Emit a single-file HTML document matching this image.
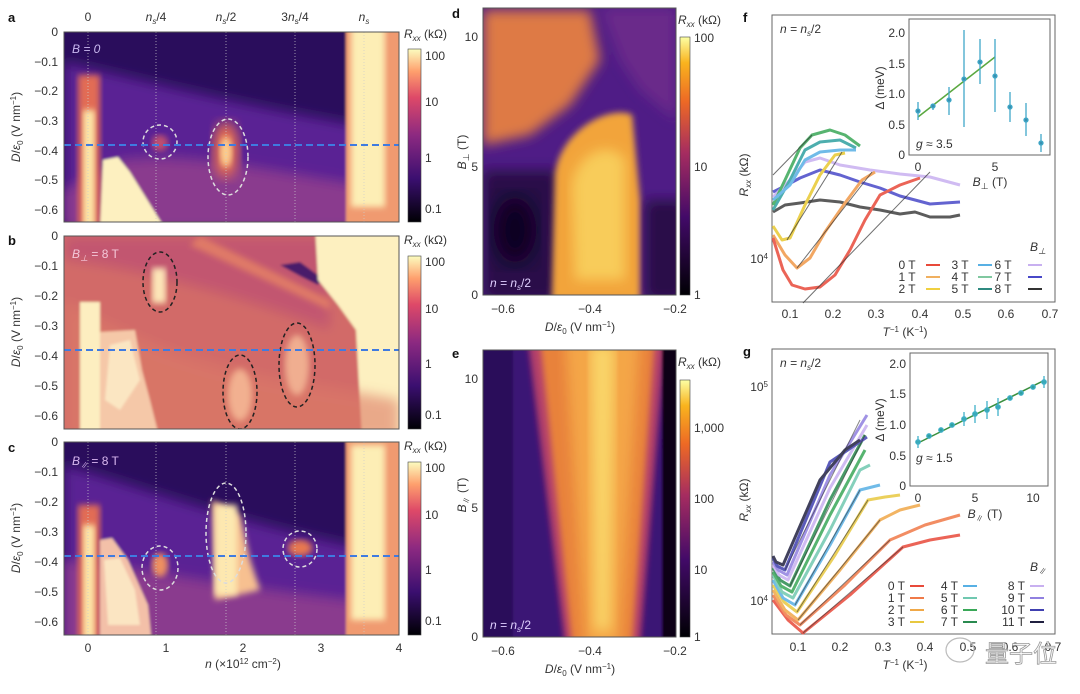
<!DOCTYPE html>
<html><head><meta charset="utf-8"><style>
html,body{margin:0;padding:0;background:#fff;}
svg{display:block;font-family:"Liberation Sans","Noto Sans CJK SC",sans-serif;}
.t{font-size:12px;fill:#333;}
.L{font-size:13px;font-weight:bold;fill:#111;}
</style></head><body>
<svg width="1080" height="694" viewBox="0 0 1080 694" xmlns="http://www.w3.org/2000/svg">
<defs>
<linearGradient id="cm" x1="0" y1="1" x2="0" y2="0">
<stop offset="0" stop-color="#000004"/><stop offset="0.25" stop-color="#3b0f70"/><stop offset="0.5" stop-color="#8c2981"/><stop offset="0.72" stop-color="#de4968"/><stop offset="0.87" stop-color="#fe9f6d"/><stop offset="1" stop-color="#fcfdbf"/></linearGradient>
<linearGradient id="ci" x1="0" y1="1" x2="0" y2="0">
<stop offset="0" stop-color="#000004"/><stop offset="0.3" stop-color="#420a68"/><stop offset="0.55" stop-color="#a52c60"/><stop offset="0.75" stop-color="#ed6925"/><stop offset="0.9" stop-color="#f9b31e"/><stop offset="1" stop-color="#fcffa4"/></linearGradient>
<filter id="b6"><feGaussianBlur stdDeviation="6"/></filter>
<filter id="b3"><feGaussianBlur stdDeviation="3"/></filter>
<filter id="b10"><feGaussianBlur stdDeviation="10"/></filter>
<filter id="b1"><feGaussianBlur stdDeviation="1.2"/></filter>
<clipPath id="ca"><rect x="64" y="32" width="335" height="190"/></clipPath>
<clipPath id="cb"><rect x="64" y="236" width="335" height="193"/></clipPath>
<clipPath id="cc"><rect x="64" y="442" width="335" height="193"/></clipPath>
<clipPath id="cd"><rect x="483" y="8" width="193" height="287"/></clipPath>
<clipPath id="ce"><rect x="483" y="350" width="193" height="287"/></clipPath>
</defs>

<!-- ============ Panel a ============ -->
<g clip-path="url(#ca)"><g filter="url(#b1)">
<rect x="50" y="20" width="360" height="215" fill="#2a0d5c"/>
<path d="M64,62 C150,82 260,110 399,132 L399,222 L64,222Z" fill="#5a2494" filter="url(#b6)"/>
<path d="M120,160 C200,150 280,175 399,190 L399,230 L64,230 L64,190Z" fill="#8a3a8e" filter="url(#b6)"/>
<rect x="78" y="75" width="22" height="160" fill="#e26c55" filter="url(#b3)"/>
<rect x="83" y="110" width="12" height="120" fill="#fde7a8" filter="url(#b3)"/>
<polygon points="103,160 118,157 130,172 166,230 100,230" fill="#fdf0c0"/>
<rect x="346" y="25" width="60" height="205" fill="#f09a70"/>
<rect x="351" y="25" width="34" height="182" fill="#fdeeb5" filter="url(#b3)"/>
<ellipse cx="226" cy="150" rx="13" ry="28" fill="#e8704f" filter="url(#b6)"/>
<ellipse cx="226" cy="152" rx="6" ry="15" fill="#fcd090" filter="url(#b3)"/>
<ellipse cx="160" cy="143" rx="8" ry="8" fill="#c05070" filter="url(#b3)"/>
</g>
<ellipse cx="160" cy="142" rx="17" ry="17" fill="none" stroke="#ddd" stroke-width="1.5" stroke-dasharray="4,3"/>
<ellipse cx="228" cy="157" rx="20" ry="38" fill="none" stroke="#ddd" stroke-width="1.5" stroke-dasharray="4,3"/>
<g stroke="#ccc" stroke-width="1" stroke-dasharray="1,2" opacity="0.7"><line x1="88" y1="32" x2="88" y2="222"/><line x1="156" y1="32" x2="156" y2="222"/><line x1="226" y1="32" x2="226" y2="222"/><line x1="295" y1="32" x2="295" y2="222"/><line x1="364" y1="32" x2="364" y2="222"/></g>
<line x1="64" y1="145" x2="399" y2="145" stroke="#3f7be0" stroke-width="2" stroke-dasharray="7,4"/>
<text x="72" y="53" font-size="12" fill="#c9b8f0" font-style="italic">B = 0</text>
</g>
<rect x="64" y="32" width="335" height="190" fill="none" stroke="#555" stroke-width="1"/>
<g class="t" text-anchor="middle"><text x="88" y="21">0</text><text x="156" y="21" font-style="italic">n<tspan font-size="8" dy="3">s</tspan><tspan dy="-3" font-style="normal">/4</tspan></text><text x="226" y="21" font-style="italic">n<tspan font-size="8" dy="3">s</tspan><tspan dy="-3" font-style="normal">/2</tspan></text><text x="295" y="21">3<tspan font-style="italic">n</tspan><tspan font-size="8" dy="3">s</tspan><tspan dy="-3">/4</tspan></text><text x="364" y="21" font-style="italic">n<tspan font-size="8" dy="3">s</tspan></text></g>

<!-- ============ Panel b ============ -->
<g clip-path="url(#cb)"><g filter="url(#b1)">
<rect x="50" y="225" width="360" height="215" fill="#d26b68"/>
<path d="M64,236 L330,236 L330,330 C250,300 150,270 64,260Z" fill="#c2566f" filter="url(#b6)"/>
<path d="M200,236 L330,300 L330,310 L190,245Z" fill="#e07a66" filter="url(#b3)"/>
<polygon points="280,265 300,262 322,278 318,285 300,276" fill="#4a1a6a"/>
<polygon points="315,225 410,225 410,440 362,440 356,330 338,305 318,280" fill="#fdf0c0"/>
<path d="M64,300 L64,440 L399,440 L399,400 C300,380 200,380 64,300Z" fill="#dd7a66" filter="url(#b6)" opacity="0.6"/>
<rect x="80" y="302" width="20" height="135" fill="#fdeec0"/>
<polygon points="100,332 135,330 142,370 150,400 160,440 100,440" fill="#f5c8a8"/>
<polygon points="110,345 130,340 140,380 120,410 105,400" fill="#fdeec8" opacity="0.8"/>
<rect x="152" y="268" width="14" height="35" fill="#fde6b8" filter="url(#b3)"/>
<ellipse cx="240" cy="395" rx="12" ry="26" fill="#f2b090" filter="url(#b3)"/>
<ellipse cx="297" cy="365" rx="12" ry="30" fill="#f0ae90" filter="url(#b3)"/>
</g>
<ellipse cx="160" cy="282" rx="17" ry="30" fill="none" stroke="#222" stroke-width="1.5" stroke-dasharray="4,3"/>
<ellipse cx="240" cy="392" rx="17" ry="37" fill="none" stroke="#222" stroke-width="1.5" stroke-dasharray="4,3"/>
<ellipse cx="297" cy="365" rx="18" ry="42" fill="none" stroke="#222" stroke-width="1.5" stroke-dasharray="4,3"/>
<line x1="64" y1="350" x2="399" y2="350" stroke="#3f7be0" stroke-width="2" stroke-dasharray="7,4"/>
<text x="72" y="258" font-size="12" fill="#f4c8d8" font-style="italic">B<tspan font-size="8" dy="3">⊥</tspan><tspan dy="-3" font-style="normal"> = 8 T</tspan></text>
</g>
<rect x="64" y="236" width="335" height="193" fill="none" stroke="#555"/>

<!-- ============ Panel c ============ -->
<g clip-path="url(#cc)"><g filter="url(#b1)">
<rect x="50" y="430" width="360" height="215" fill="#2a0d5c"/>
<path d="M64,465 C150,490 260,530 399,555 L399,645 L64,645Z" fill="#5a2494" filter="url(#b6)"/>
<path d="M64,560 C150,570 250,590 399,605 L399,645 L64,645Z" fill="#8a3a8e" filter="url(#b6)"/>
<rect x="78" y="505" width="22" height="140" fill="#e26c55" filter="url(#b3)"/>
<rect x="83" y="525" width="12" height="115" fill="#fde7a8" filter="url(#b3)"/>
<polygon points="100,540 112,538 128,560 148,605 152,645 100,645" fill="#f3c0a8"/>
<polygon points="104,560 120,558 135,590 140,625 108,625" fill="#fdeec8" opacity="0.8"/>
<rect x="346" y="430" width="60" height="215" fill="#f09a70"/>
<rect x="351" y="445" width="34" height="175" fill="#fdeeb5" filter="url(#b3)"/>
<ellipse cx="160" cy="565" rx="8" ry="12" fill="#ef9060" filter="url(#b3)"/>
<path d="M212,500 L240,515 L250,560 L260,590 L215,600Z" fill="#f7c090" filter="url(#b3)"/>
<rect x="215" y="505" width="22" height="90" fill="#fde8b0" filter="url(#b3)"/>
<ellipse cx="300" cy="548" rx="12" ry="8" fill="#e87850" filter="url(#b3)"/>
</g>
<ellipse cx="160" cy="568" rx="18" ry="22" fill="none" stroke="#ddd" stroke-width="1.5" stroke-dasharray="4,3"/>
<ellipse cx="226" cy="533" rx="20" ry="50" fill="none" stroke="#ddd" stroke-width="1.5" stroke-dasharray="4,3"/>
<ellipse cx="300" cy="549" rx="17" ry="18" fill="none" stroke="#ddd" stroke-width="1.5" stroke-dasharray="4,3"/>
<g stroke="#ccc" stroke-width="1" stroke-dasharray="1,2" opacity="0.7"><line x1="88" y1="442" x2="88" y2="635"/><line x1="156" y1="442" x2="156" y2="635"/><line x1="226" y1="442" x2="226" y2="635"/><line x1="295" y1="442" x2="295" y2="635"/><line x1="364" y1="442" x2="364" y2="635"/></g>
<line x1="64" y1="556" x2="399" y2="556" stroke="#3f7be0" stroke-width="2" stroke-dasharray="7,4"/>
<text x="72" y="465" font-size="12" fill="#d9b8f0" font-style="italic">B<tspan font-size="8" dy="3">∥</tspan><tspan dy="-3" font-style="normal"> = 8 T</tspan></text>
</g>
<rect x="64" y="442" width="335" height="193" fill="none" stroke="#555"/>

<!-- y ticks a,b,c -->
<g class="t" text-anchor="end">
<text x="58" y="36">0</text><text x="58" y="66">−0.1</text><text x="58" y="95">−0.2</text><text x="58" y="125">−0.3</text><text x="58" y="155">−0.4</text><text x="58" y="184">−0.5</text><text x="58" y="214">−0.6</text>
<text x="58" y="240">0</text><text x="58" y="270">−0.1</text><text x="58" y="300">−0.2</text><text x="58" y="330">−0.3</text><text x="58" y="360">−0.4</text><text x="58" y="390">−0.5</text><text x="58" y="420">−0.6</text>
<text x="58" y="446">0</text><text x="58" y="476">−0.1</text><text x="58" y="506">−0.2</text><text x="58" y="536">−0.3</text><text x="58" y="566">−0.4</text><text x="58" y="596">−0.5</text><text x="58" y="626">−0.6</text>
</g>
<g class="t" text-anchor="middle">
<text transform="translate(20,127) rotate(-90)"><tspan font-style="italic">D</tspan>/<tspan font-style="italic">ε</tspan><tspan font-size="8" dy="3">0</tspan><tspan dy="-3"> (V nm</tspan><tspan font-size="8" dy="-4">−1</tspan><tspan dy="4">)</tspan></text>
<text transform="translate(20,332) rotate(-90)"><tspan font-style="italic">D</tspan>/<tspan font-style="italic">ε</tspan><tspan font-size="8" dy="3">0</tspan><tspan dy="-3"> (V nm</tspan><tspan font-size="8" dy="-4">−1</tspan><tspan dy="4">)</tspan></text>
<text transform="translate(20,538) rotate(-90)"><tspan font-style="italic">D</tspan>/<tspan font-style="italic">ε</tspan><tspan font-size="8" dy="3">0</tspan><tspan dy="-3"> (V nm</tspan><tspan font-size="8" dy="-4">−1</tspan><tspan dy="4">)</tspan></text>
<text x="88" y="652">0</text><text x="166" y="652">1</text><text x="243" y="652">2</text><text x="321" y="652">3</text><text x="399" y="652">4</text>
<text x="243" y="668"><tspan font-style="italic">n</tspan> (×10<tspan font-size="8" dy="-4">12</tspan><tspan dy="4"> cm</tspan><tspan font-size="8" dy="-4">−2</tspan><tspan dy="4">)</tspan></text>
</g>
<!-- colorbars a b c -->
<g>
<rect x="408" y="49" width="13" height="173" fill="url(#cm)" stroke="#444" stroke-width="0.6"/>
<rect x="408" y="256" width="13" height="173" fill="url(#cm)" stroke="#444" stroke-width="0.6"/>
<rect x="408" y="462" width="13" height="173" fill="url(#cm)" stroke="#444" stroke-width="0.6"/>
</g>
<g class="t">
<text x="404" y="38"><tspan font-style="italic">R</tspan><tspan font-size="8" dy="3" font-style="italic">xx</tspan><tspan dy="-3"> (kΩ)</tspan></text>
<text x="425" y="60">100</text><text x="425" y="106">10</text><text x="425" y="162">1</text><text x="425" y="213">0.1</text>
<text x="404" y="244"><tspan font-style="italic">R</tspan><tspan font-size="8" dy="3" font-style="italic">xx</tspan><tspan dy="-3"> (kΩ)</tspan></text>
<text x="425" y="266">100</text><text x="425" y="313">10</text><text x="425" y="368">1</text><text x="425" y="419">0.1</text>
<text x="404" y="450"><tspan font-style="italic">R</tspan><tspan font-size="8" dy="3" font-style="italic">xx</tspan><tspan dy="-3"> (kΩ)</tspan></text>
<text x="425" y="472">100</text><text x="425" y="519">10</text><text x="425" y="574">1</text><text x="425" y="625">0.1</text>
</g>

<!-- ============ Panel d ============ -->
<g clip-path="url(#cd)"><g filter="url(#b1)">
<rect x="475" y="0" width="210" height="300" fill="#4f1d86"/>
<path d="M483,10 L590,10 L600,60 L570,105 L530,135 L483,145Z" fill="#de7a45" filter="url(#b6)"/>
<path d="M600,8 L676,8 L676,120 L640,90 L620,60Z" fill="#6a2a8a" filter="url(#b6)"/>
<rect x="483" y="170" width="75" height="130" fill="#2a0c4a" filter="url(#b6)"/>
<ellipse cx="515" cy="230" rx="22" ry="35" fill="#0e0420" filter="url(#b10)"/>
<path d="M555,175 C560,130 610,105 632,115 L640,200 L640,300 L552,300Z" fill="#f2a43a" filter="url(#b3)"/>
<path d="M572,185 C578,150 612,140 625,160 L625,280 L575,280Z" fill="#f8cc5a" filter="url(#b6)"/>
<rect x="645" y="200" width="40" height="100" fill="#2a0c4a" filter="url(#b6)"/>
</g>
<text x="490" y="287" font-size="12" fill="#e0d0ff" font-style="italic">n = n<tspan font-size="8" dy="3">s</tspan><tspan dy="-3" font-style="normal">/2</tspan></text>
</g>
<rect x="483" y="8" width="193" height="287" fill="none" stroke="#555"/>
<rect x="680" y="37" width="10" height="258" fill="url(#ci)" stroke="#444" stroke-width="0.6"/>
<g class="t">
<text x="678" y="24"><tspan font-style="italic">R</tspan><tspan font-size="8" dy="3" font-style="italic">xx</tspan><tspan dy="-3"> (kΩ)</tspan></text>
<text x="694" y="42">100</text><text x="694" y="171">10</text><text x="694" y="299">1</text>
</g>
<g class="t" text-anchor="end"><text x="478" y="41">10</text><text x="478" y="171">5</text><text x="478" y="299">0</text>
<text x="478" y="383">10</text><text x="478" y="512">5</text><text x="478" y="641">0</text></g>
<g class="t" text-anchor="middle">
<text x="503" y="313">−0.6</text><text x="590" y="313">−0.4</text><text x="675" y="313">−0.2</text>
<text x="580" y="331"><tspan font-style="italic">D</tspan>/<tspan font-style="italic">ε</tspan><tspan font-size="8" dy="3">0</tspan><tspan dy="-3"> (V nm</tspan><tspan font-size="8" dy="-4">−1</tspan><tspan dy="4">)</tspan></text>
<text transform="translate(466,152) rotate(-90)"><tspan font-style="italic">B</tspan><tspan font-size="8" dy="3">⊥</tspan><tspan dy="-3"> (T)</tspan></text>
<text transform="translate(466,495) rotate(-90)"><tspan font-style="italic">B</tspan><tspan font-size="8" dy="3">∥</tspan><tspan dy="-3"> (T)</tspan></text>
<text x="503" y="655">−0.6</text><text x="590" y="655">−0.4</text><text x="675" y="655">−0.2</text>
<text x="580" y="673"><tspan font-style="italic">D</tspan>/<tspan font-style="italic">ε</tspan><tspan font-size="8" dy="3">0</tspan><tspan dy="-3"> (V nm</tspan><tspan font-size="8" dy="-4">−1</tspan><tspan dy="4">)</tspan></text>
</g>

<!-- ============ Panel e ============ -->
<g clip-path="url(#ce)"><g filter="url(#b1)">
<rect x="475" y="340" width="210" height="310" fill="#3a1275"/>
<rect x="475" y="340" width="38" height="310" fill="#2a0c5a"/>
<polygon points="528,340 665,340 640,645 565,645" fill="#b4406a" filter="url(#b3)"/>
<polygon points="540,340 655,340 632,645 572,645" fill="#e8823a" filter="url(#b3)"/>
<polygon points="565,340 640,340 620,645 585,645" fill="#f4a646" filter="url(#b6)"/>
<polygon points="590,345 615,345 610,630 595,630" fill="#f9d468" filter="url(#b6)"/>
<rect x="662" y="340" width="25" height="310" fill="#0a0314"/>
</g>
<text x="490" y="629" font-size="12" fill="#e0d0ff" font-style="italic">n = n<tspan font-size="8" dy="3">s</tspan><tspan dy="-3" font-style="normal">/2</tspan></text>
</g>
<rect x="483" y="350" width="193" height="287" fill="none" stroke="#555"/>
<rect x="680" y="380" width="10" height="257" fill="url(#ci)" stroke="#444" stroke-width="0.6"/>
<g class="t">
<text x="678" y="366"><tspan font-style="italic">R</tspan><tspan font-size="8" dy="3" font-style="italic">xx</tspan><tspan dy="-3"> (kΩ)</tspan></text>
<text x="694" y="432">1,000</text><text x="694" y="503">100</text><text x="694" y="574">10</text><text x="694" y="641">1</text>
</g>

<!-- ============ Panel f ============ -->
<rect x="772" y="15" width="283" height="287" fill="#fff" stroke="#666"/>
<g fill="none" stroke-width="3" stroke-linejoin="round" opacity="0.85">
<polyline stroke="#000" opacity="0.75" points="773,212 785,205 800,203 820,200 840,202 860,207 880,210 900,214 915,212 930,217 950,217 960,215"/>
<polyline stroke="#4848c8" points="773,192 785,186 800,178 820,170 840,175 860,182 880,188 900,196 930,204 960,202"/>
<polyline stroke="#c8b0f0" points="773,197 790,180 805,162 820,158 840,165 870,170 900,174 930,177 960,185"/>
<polyline stroke="#2fa0a0" points="773,210 790,180 805,150 820,142 840,140 856,148"/>
<polyline stroke="#3aa858" points="773,205 785,180 800,148 812,135 830,130 845,135 860,146"/>
<polyline stroke="#58b0e4" points="773,200 790,185 805,160 820,152 840,150 856,150"/>
<polyline stroke="#e8c830" points="773,226 782,240 790,238 805,205 820,175 835,155 845,153"/>
<polyline stroke="#f09848" points="773,235 785,255 797,268 810,258 825,232 845,203 862,180 875,172"/>
<polyline stroke="#e84a3a" points="773,238 783,270 792,285 805,289 820,287 835,275 850,250 865,220 880,195 900,185 920,178"/>
</g>
<g stroke="#333" stroke-width="1" opacity="0.7">
<line x1="803" y1="303" x2="930" y2="172"/><line x1="797" y1="268" x2="872" y2="172"/><line x1="787" y1="240" x2="842" y2="152"/><line x1="773" y1="175" x2="812" y2="135"/>
</g>
<g class="t" text-anchor="middle"><text x="790" y="318">0.1</text><text x="833" y="318">0.2</text><text x="876" y="318">0.3</text><text x="920" y="318">0.4</text><text x="963" y="318">0.5</text><text x="1006" y="318">0.6</text><text x="1050" y="318">0.7</text>
<text x="905" y="336"><tspan font-style="italic">T</tspan><tspan font-size="8" dy="-4">−1</tspan><tspan dy="4"> (K</tspan><tspan font-size="8" dy="-4">−1</tspan><tspan dy="4">)</tspan></text>
<text transform="translate(748,175) rotate(-90)"><tspan font-style="italic">R</tspan><tspan font-size="8" dy="3" font-style="italic">xx</tspan><tspan dy="-3"> (kΩ)</tspan></text>
</g>
<text class="t" x="768" y="263" text-anchor="end">10<tspan font-size="8" dy="-4">4</tspan></text>
<text class="t" x="780" y="33" font-style="italic">n = n<tspan font-size="8" dy="3">s</tspan><tspan dy="-3" font-style="normal">/2</tspan></text>
<!-- inset f -->
<rect x="909" y="19" width="141" height="136" fill="#fff" stroke="#666"/>
<line x1="918" y1="117" x2="995" y2="57" stroke="#5aa840" stroke-width="1.5"/>
<g stroke="#40a8c8" stroke-width="1.3" fill="#3890b0">
<line x1="918" y1="102" x2="918" y2="120"/><line x1="933" y1="104" x2="933" y2="110"/><line x1="949" y1="87" x2="949" y2="115"/><line x1="964" y1="30" x2="964" y2="127"/><line x1="980" y1="39" x2="980" y2="84"/><line x1="995" y1="39" x2="995" y2="112"/><line x1="1010" y1="92" x2="1010" y2="122"/><line x1="1026" y1="103" x2="1026" y2="136"/><line x1="1041" y1="134" x2="1041" y2="152"/>
<circle cx="918" cy="111" r="2"/><circle cx="933" cy="106" r="2"/><circle cx="949" cy="100" r="2"/><circle cx="964" cy="79" r="2"/><circle cx="980" cy="62" r="2"/><circle cx="995" cy="76" r="2"/><circle cx="1010" cy="107" r="2"/><circle cx="1026" cy="120" r="2"/><circle cx="1041" cy="143" r="2"/>
</g>
<g class="t" text-anchor="end"><text x="905" y="37">2.0</text><text x="905" y="68">1.5</text><text x="905" y="98">1.0</text><text x="905" y="129">0.5</text><text x="905" y="159">0</text></g>
<g class="t" text-anchor="middle"><text x="918" y="171">0</text><text x="995" y="171">5</text><text x="990" y="186"><tspan font-style="italic">B</tspan><tspan font-size="8" dy="3">⊥</tspan><tspan dy="-3"> (T)</tspan></text>
<text transform="translate(884,88) rotate(-90)">Δ (meV)</text></g>
<text class="t" x="916" y="148" font-size="13"><tspan font-style="italic">g</tspan> ≈ 3.5</text>
<!-- legend f -->
<text class="t" x="1030" y="251" font-style="italic" font-size="13">B<tspan font-size="8" dy="3">⊥</tspan></text>
<g class="t" font-size="11" text-anchor="middle">
<text x="907" y="269">0 T</text><text x="907" y="281">1 T</text><text x="907" y="293">2 T</text>
<text x="960" y="269">3 T</text><text x="960" y="281">4 T</text><text x="960" y="293">5 T</text>
<text x="1003" y="269">6 T</text><text x="1003" y="281">7 T</text><text x="1003" y="293">8 T</text>
</g>
<g stroke-width="2"><line x1="926" y1="265" x2="940" y2="265" stroke="#e84a3a"/><line x1="926" y1="277" x2="940" y2="277" stroke="#f0b060"/><line x1="926" y1="289" x2="940" y2="289" stroke="#f0d040"/>
<line x1="978" y1="265" x2="992" y2="265" stroke="#58b0e4"/><line x1="978" y1="277" x2="992" y2="277" stroke="#80c8a0"/><line x1="978" y1="289" x2="992" y2="289" stroke="#2f8a80"/>
<line x1="1028" y1="265" x2="1042" y2="265" stroke="#c8b0f0"/><line x1="1028" y1="277" x2="1042" y2="277" stroke="#4848c8"/><line x1="1028" y1="289" x2="1042" y2="289" stroke="#333"/></g>

<!-- ============ Panel g ============ -->
<rect x="772" y="349" width="283" height="285" fill="#fff" stroke="#666"/>
<g fill="none" stroke-width="3" stroke-linejoin="round" opacity="0.85">
<polyline stroke="#e84a3a" points="773,600 788,620 803,633 850,595 903,547 930,540 960,535"/>
<polyline stroke="#f07a48" points="773,595 786,615 800,625 845,585 890,540 925,525 960,515"/>
<polyline stroke="#f0a848" points="773,590 785,610 798,620 840,570 880,520 900,510 920,505"/>
<polyline stroke="#e8c840" points="773,585 784,602 797,612 835,555 868,500 885,497 900,495"/>
<polyline stroke="#58b0e4" points="773,580 783,598 795,605 830,545 860,490 880,485"/>
<polyline stroke="#70c8b0" points="773,575 782,592 793,598 830,530 860,470 870,465"/>
<polyline stroke="#3aa858" points="773,572 781,586 792,592 830,515 865,450"/>
<polyline stroke="#2a8a50" points="773,568 780,580 790,586 830,500 865,435"/>
<polyline stroke="#c8b0f0" points="773,565 779,575 788,580 830,488 867,425"/>
<polyline stroke="#9080e0" points="773,562 778,570 787,575 830,475 867,415"/>
<polyline stroke="#4040b0" points="773,558 777,566 785,570 830,462 867,437"/>
<polyline stroke="#202040" points="773,556 776,562 783,565 820,480 845,450 860,440"/>
</g>
<g stroke="#333" stroke-width="1" opacity="0.6">
<line x1="803" y1="633" x2="903" y2="547"/><line x1="800" y1="625" x2="890" y2="540"/><line x1="798" y1="620" x2="880" y2="520"/><line x1="797" y1="612" x2="868" y2="500"/><line x1="795" y1="605" x2="860" y2="490"/><line x1="790" y1="586" x2="865" y2="435"/><line x1="785" y1="570" x2="860" y2="420"/>
</g>
<g class="t" text-anchor="middle"><text x="798" y="651">0.1</text><text x="840" y="651">0.2</text><text x="883" y="651">0.3</text><text x="925" y="651">0.4</text><text x="968" y="651">0.5</text><text x="1010" y="651">0.6</text><text x="1053" y="651">0.7</text>
<text x="905" y="669"><tspan font-style="italic">T</tspan><tspan font-size="8" dy="-4">−1</tspan><tspan dy="4"> (K</tspan><tspan font-size="8" dy="-4">−1</tspan><tspan dy="4">)</tspan></text>
<text transform="translate(748,500) rotate(-90)"><tspan font-style="italic">R</tspan><tspan font-size="8" dy="3" font-style="italic">xx</tspan><tspan dy="-3"> (kΩ)</tspan></text>
</g>
<text class="t" x="768" y="391" text-anchor="end">10<tspan font-size="8" dy="-4">5</tspan></text>
<text class="t" x="768" y="605" text-anchor="end">10<tspan font-size="8" dy="-4">4</tspan></text>
<text class="t" x="780" y="367" font-style="italic">n = n<tspan font-size="8" dy="3">s</tspan><tspan dy="-3" font-style="normal">/2</tspan></text>
<!-- inset g -->
<rect x="910" y="353" width="138" height="133" fill="#fff" stroke="#666"/>
<line x1="918" y1="443" x2="1045" y2="380" stroke="#3a9040" stroke-width="1.5"/>
<g stroke="#40b0c8" stroke-width="1.3" fill="#30a0a0">
<circle cx="918" cy="442" r="2.2"/><circle cx="929" cy="436" r="2.2"/><circle cx="941" cy="430" r="2.2"/><circle cx="952" cy="425" r="2.2"/><circle cx="964" cy="419" r="2.2"/><circle cx="975" cy="414" r="2.2"/><circle cx="987" cy="410" r="2.2"/><circle cx="998" cy="407" r="2.2"/><circle cx="1010" cy="398" r="2.2"/><circle cx="1021" cy="393" r="2.2"/><circle cx="1033" cy="387" r="2.2"/><circle cx="1044" cy="382" r="2.2"/>
<line x1="918" y1="436" x2="918" y2="448"/><line x1="964" y1="412" x2="964" y2="426"/><line x1="975" y1="405" x2="975" y2="423"/><line x1="987" y1="401" x2="987" y2="419"/><line x1="998" y1="398" x2="998" y2="416"/><line x1="1044" y1="376" x2="1044" y2="388"/>
</g>
<g class="t" text-anchor="end"><text x="906" y="368">2.0</text><text x="906" y="398">1.5</text><text x="906" y="429">1.0</text><text x="906" y="460">0.5</text><text x="906" y="490">0</text></g>
<g class="t" text-anchor="middle"><text x="918" y="502">0</text><text x="975" y="502">5</text><text x="1033" y="502">10</text><text x="985" y="518"><tspan font-style="italic">B</tspan><tspan font-size="8" dy="3">∥</tspan><tspan dy="-3"> (T)</tspan></text>
<text transform="translate(884,420) rotate(-90)">Δ (meV)</text></g>
<text class="t" x="916" y="462" font-size="13"><tspan font-style="italic">g</tspan> ≈ 1.5</text>
<!-- legend g -->
<text class="t" x="1030" y="571" font-style="italic" font-size="13">B<tspan font-size="8" dy="3">∥</tspan></text>
<g class="t" font-size="11" text-anchor="end">
<text x="905" y="590">0 T</text><text x="905" y="602">1 T</text><text x="905" y="614">2 T</text><text x="905" y="626">3 T</text>
<text x="958" y="590">4 T</text><text x="958" y="602">5 T</text><text x="958" y="614">6 T</text><text x="958" y="626">7 T</text>
<text x="1025" y="590">8 T</text><text x="1025" y="602">9 T</text><text x="1025" y="614">10 T</text><text x="1025" y="626">11 T</text>
</g>
<g stroke-width="2">
<line x1="910" y1="586" x2="924" y2="586" stroke="#e84a3a"/><line x1="910" y1="598" x2="924" y2="598" stroke="#f07a48"/><line x1="910" y1="610" x2="924" y2="610" stroke="#f0a848"/><line x1="910" y1="622" x2="924" y2="622" stroke="#e8c840"/>
<line x1="963" y1="586" x2="977" y2="586" stroke="#58b0e4"/><line x1="963" y1="598" x2="977" y2="598" stroke="#70c8b0"/><line x1="963" y1="610" x2="977" y2="610" stroke="#3aa858"/><line x1="963" y1="622" x2="977" y2="622" stroke="#2a8a50"/>
<line x1="1030" y1="586" x2="1044" y2="586" stroke="#c8b0f0"/><line x1="1030" y1="598" x2="1044" y2="598" stroke="#9080e0"/><line x1="1030" y1="610" x2="1044" y2="610" stroke="#4040b0"/><line x1="1030" y1="622" x2="1044" y2="622" stroke="#202040"/>
</g>

<!-- panel letters -->
<g class="L"><text x="8" y="22">a</text><text x="8" y="245">b</text><text x="8" y="452">c</text><text x="452" y="18">d</text><text x="452" y="358">e</text><text x="743" y="22">f</text><text x="743" y="356">g</text></g>
<!-- watermark -->
<ellipse cx="960" cy="650" rx="14" ry="12" fill="none" stroke="#bbb" stroke-width="1.2"/>
<text x="985" y="662" font-size="24" fill="#fff" stroke="#999" stroke-width="0.8" font-family="'Noto Sans CJK SC',sans-serif">量子位</text>
</svg>
</body></html>
